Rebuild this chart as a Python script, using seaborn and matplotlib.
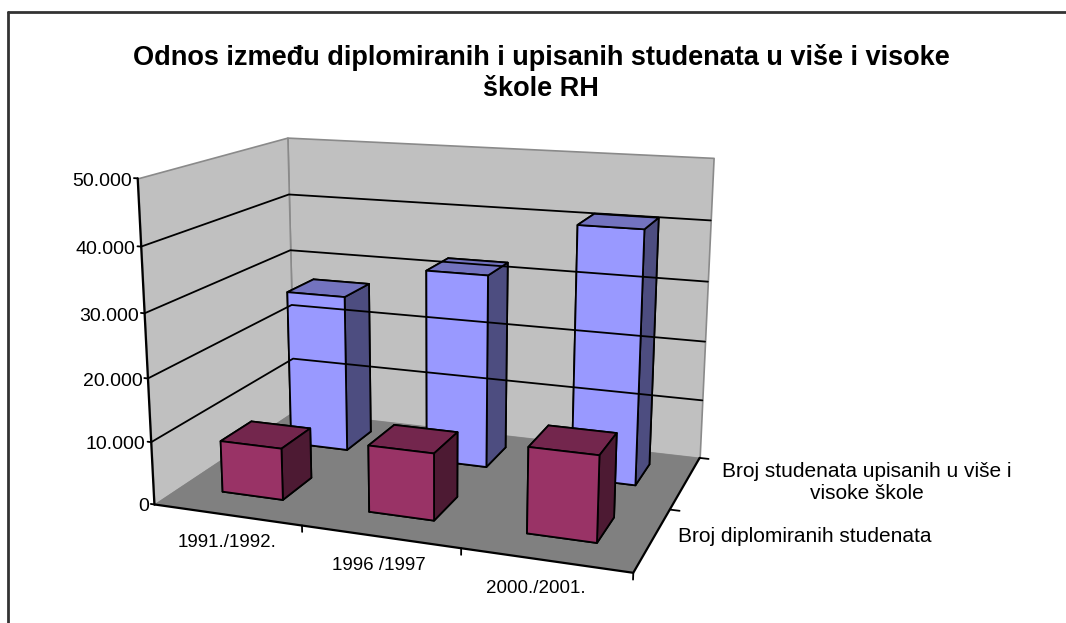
import numpy as np
import pandas as pd
import matplotlib
matplotlib.use("Agg")
import matplotlib.pyplot as plt
from matplotlib.lines import Line2D
from mpl_toolkits.mplot3d.art3d import Poly3DCollection
import seaborn as sns

title = "Odnos između diplomiranih i upisanih studenata u više i visoke\nškole RH"
years = ["1991./1992.", "1996 /1997", "2000./2001."]
series = ["Broj diplomiranih studenata", "Broj studenata upisanih u više i\nvisoke škole"]
graduates = [8300, 10500, 13200]
enrolled = [26500, 32000, 41000]
z_ticks = [0, 10000, 20000, 30000, 40000, 50000]
z_labels = ["0", "10.000", "20.000", "30.000", "40.000", "50.000"]

sns.set_theme(style="white")
plt.rcParams["font.family"] = ["Liberation Sans", "DejaVu Sans"]

df = pd.DataFrame({"year": years, series[0]: graduates, series[1]: enrolled})

fig = plt.figure(figsize=(10.66, 6.23), dpi=100)
# axes much larger than the figure so that the box is not clipped to a square
ax = fig.add_axes([422 / 1066 - 1, 278 / 623 - 1, 2, 2], projection="3d")
ax.set_proj_type("persp", focal_length=0.22)
ax.view_init(elev=14.5, azim=-70)
ax.set_box_aspect((460, 307, 310), zoom=0.514)
ax.set_axis_off()
ax.computed_zorder = False

x0, x1 = -0.5, 2.5
y0, y1 = 0, 2
z0, z1 = z_ticks[0], z_ticks[-1]


def wall(verts, color, edge="none"):
    ax.add_collection3d(Poly3DCollection([verts], facecolors=color, edgecolors=edge, linewidths=1.2), autolim=False)


wall([(x0, y1, z0), (x1, y1, z0), (x1, y1, z1), (x0, y1, z1)], "#c0c0c0", "#8a8a8a")
wall([(x0, y0, z0), (x0, y1, z0), (x0, y1, z1), (x0, y0, z1)], "#c0c0c0", "#8a8a8a")
wall([(x0, y0, z0), (x1, y0, z0), (x1, y1, z0), (x0, y1, z0)], "#808080")

for z in z_ticks[1:-1]:
    ax.plot([x0, x0, x1], [y0, y1, y1], [z, z, z], color="black", lw=1.3)

# axis lines and tick stubs
ax.plot([x0, x0], [y0, y0], [z0, z1], color="black", lw=1.6)
ax.plot([x0, x1, x1], [y0, y0, y1], [z0, z0, z0], color="black", lw=1.6)
for z, lab in zip(z_ticks, z_labels):
    ax.plot([x0, x0 - 0.025], [y0, y0], [z, z], color="black", lw=1.3)
    ax.text(x0 - 0.04, y0, z - 500, lab, ha="right", va="center", fontsize=14, color="black")
for x in [0.5, 1.5, 2.5]:
    ax.plot([x, x], [y0, y0], [z0, z0 - 1000], color="black", lw=1.3)
for y in [1, 2]:
    ax.plot([x1, x1 + 0.06], [y, y], [z0, z0], color="black", lw=1.3)

width = 0.42
rows = [
    (1.55, df[series[1]], ("#9999ff", "#7373bf", "#4d4d80")),
    (0.55, df[series[0]], ("#993366", "#73264d", "#4d1a33")),
]
for row_y, values, (front, top, side) in rows:
    for i, v in enumerate(values):
        # faces: bottom, top, front, back, left, right
        ax.bar3d(i - width / 2, row_y - width / 2, 0, width, width, v,
                 color=[front, top, front, top, side, side],
                 shade=False, edgecolor="black", linewidth=1.3)

for i, lab, nudge in zip(range(3), years, [0.27, 0.2, 0.09]):
    ax.text(i + nudge, y0 - 0.5, z0 + 1400, lab, ha="center", va="center", fontsize=13.5, color="black")
ax.text(x1 + 0.855, 0.5, z0 + 3500, series[0], ha="center", va="center", fontsize=15, color="black")
ax.text(x1 + 1.115, 1.5, z0 + 3500, series[1], ha="center", va="center", fontsize=15, color="black")

ax.set_xlim(x0, x1)
ax.set_ylim(y0, y1)
ax.set_zlim(z0, z1)

fig.text(541 / 1066, 1 - 73 / 623, title, ha="center", va="center", fontsize=19.5, fontweight="bold",
         color="black", linespacing=1.27)

# chart frame: top and left edges only are inside the picture
fig.add_artist(Line2D([8 / 1066, 1], [1 - 12 / 623, 1 - 12 / 623], color="#333333", lw=2))
fig.add_artist(Line2D([8 / 1066, 8 / 1066], [0, 1 - 12 / 623], color="#333333", lw=2))

fig.savefig("out.png", dpi=100)
